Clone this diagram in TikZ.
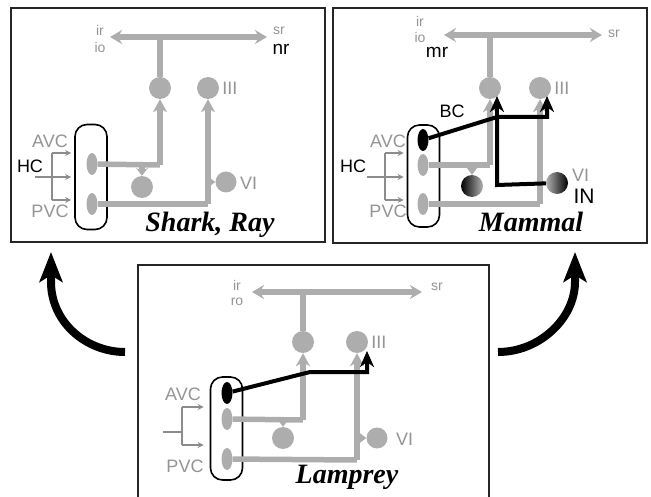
\documentclass[tikz,border=0pt]{standalone}
\usepackage{fontspec}
\setmainfont{Liberation Serif}
\setsansfont{Liberation Sans}
\usetikzlibrary{arrows.meta,shapes.geometric}
\begin{document}
\begin{tikzpicture}[x=1pt,y=-1pt,
  panel/.style={draw=black!85,line width=1.6pt},
  gline/.style={draw=black!32,line width=5.5pt},
  garrow/.style={gline,-{Stealth[length=13pt,width=14pt,inset=4pt]}},
  gsmall/.style={gline,-{Stealth[length=8pt,width=12pt,inset=3pt]}},
  gdarrow/.style={gline,{Stealth[length=12pt,width=14pt,inset=4pt]}-{Stealth[length=12pt,width=14pt,inset=4pt]}},
  gdot/.style={circle,fill=black!32,inner sep=0pt,minimum size=22pt},
  vcell/.style={ellipse,fill=black!32,inner sep=0pt,minimum width=11pt,minimum height=22pt},
  bcell/.style={ellipse,fill=black,inner sep=0pt,minimum width=11pt,minimum height=22pt},
  nucleus/.style={draw=black,line width=1.6pt,rounded corners=12pt,minimum width=32pt,inner sep=0pt},
  glbl/.style={font=\sffamily\fontsize{18}{18}\selectfont,text=black!42,inner sep=0pt},
  slbl/.style={font=\sffamily\fontsize{14}{14}\selectfont,text=black!42,inner sep=0pt},
  klbl/.style={font=\sffamily\fontsize{18}{18}\selectfont,text=black,inner sep=0pt},
  nrlbl/.style={font=\sffamily\fontsize{19}{19}\selectfont,text=black,inner sep=0pt},
  ttl/.style={font=\rmfamily\bfseries\itshape\fontsize{28}{28}\selectfont,inner sep=0pt,anchor=base},
  bline/.style={draw=black,line width=4pt},
  barrow/.style={bline,-{Stealth[length=16pt,width=14pt,inset=5pt]}},
  thinarrow/.style={draw=black!45,line width=1.2pt,-{Stealth[length=6pt,width=6pt]},shorten >=3pt},
  thinline/.style={draw=black!45,line width=1.2pt},
  bigarrow/.style={draw=black,line width=8pt,-{Stealth[length=30pt,width=23pt,inset=7pt]}}
]
\useasboundingbox (0,0) rectangle (651,497);

% ================= SHARK, RAY =================
\draw[panel] (11,8) rectangle (325,242);
\coordinate (s-L) at (110,37);
\coordinate (s-R) at (267,37);
\coordinate (s-top) at (160,37);
\node[slbl] (s-ir) at (100,30) {ir};
\node[slbl] (s-io) at (100,47) {io};
\node[slbl] (s-sr) at (279,31) {sr};
\node[nrlbl] (s-nr) at (281,49) {nr};
\node[gdot] (s-c1) at (160,88) {};
\node[gdot] (s-c3) at (208,88) {};
\node[glbl,anchor=west] (s-III) at ([xshift=3pt]s-c3.east) {III};
\node[nucleus,minimum height=105pt] (s-nuc) at (91,177) {};
\node[vcell] (s-e1) at (92,164) {};
\node[vcell] (s-e2) at (92,204) {};
\node[gdot] (s-c2) at (142,187) {};
\node[gdot,minimum size=21pt] (s-c6) at (226,182) {};
\node[glbl,anchor=west] (s-VI) at (240,183) {VI};
\coordinate (s-j1) at (160,165);
\coordinate (s-j2) at (208,204);
\coordinate (s-b1) at (142,165);
\coordinate (s-b2) at (208,182);
\draw[gdarrow] (s-L) -- (s-R);
\draw[gline] (s-e1) -- (s-j1);
\draw[garrow] (s-j1) -- (s-c1.south);
\draw[gline] (s-c1) -- (s-top);
\draw[gline] (s-e2) -- (s-j2);
\draw[garrow] (s-j2) -- (s-c3.south);
\draw[gsmall] (s-b1) -- (s-c2.north);
\draw[gsmall] (s-b2) -- (s-c6.west);
\coordinate (s-h0) at (35,177);
\coordinate (s-v1) at (52,153);
\coordinate (s-v2) at (52,200);
\draw[thinline] (s-v1) -- (s-v2);
\draw[thinarrow] (s-v1) -- (s-v1 -| s-nuc.west);
\draw[thinarrow] (s-h0) -- (s-h0 -| s-nuc.west);
\draw[thinarrow] (s-v2) -- (s-v2 -| s-nuc.west);
\node[glbl] (s-AVC) at (50,141) {AVC};
\node[klbl] (s-HC) at (30,166) {HC};
\node[glbl] (s-PVC) at (50,211) {PVC};
\node[ttl] (s-title) at (210,232) {Shark, Ray};

% ================= MAMMAL =================
\draw[panel] (333,8) rectangle (647,243);
\coordinate (m-L) at (444,35);
\coordinate (m-R) at (602,35);
\coordinate (m-top) at (490,35);
\node[slbl] (m-ir) at (420,21) {ir};
\node[slbl] (m-io) at (420,37) {io};
\node[nrlbl] (m-mr) at (437,52) {mr};
\node[slbl] (m-sr) at (614,34) {sr};
\node[gdot] (m-c1) at (490,88) {};
\node[gdot] (m-c3) at (540,88) {};
\node[glbl,anchor=west] (m-III) at ([xshift=3pt]m-c3.east) {III};
\node[nucleus,minimum height=102pt] (m-nuc) at (423.5,176) {};
\node[vcell] (m-e1) at (423,165) {};
\node[vcell] (m-e2) at (423,204) {};
\node[bcell] (m-e0) at (423,140) {};
\node[circle,inner sep=0pt,minimum size=22pt,left color=black,right color=black!30] (m-c2) at (472,186) {};
\node[circle,inner sep=0pt,minimum size=22pt,left color=black!30,right color=black] (m-c6) at (557,183) {};
\node[glbl,anchor=west] (m-VI) at (572,175) {VI};
\node[klbl,font=\sffamily\fontsize{21}{21}\selectfont] (m-IN) at (584,196) {IN};
\node[klbl] (m-BC) at (452,111) {BC};
\coordinate (m-j1) at (490,165);
\coordinate (m-j2) at (540,204);
\coordinate (m-b1) at (472,165);
\coordinate (m-b2) at (540,183);
\draw[gdarrow] (m-L) -- (m-R);
\draw[gline] (m-e1) -- (m-j1);
\draw[garrow] (m-j1) -- (m-c1.south);
\draw[gline] (m-c1) -- (m-top);
\draw[gline] (m-e2) -- (m-j2);
\draw[garrow] (m-j2) -- (m-c3.south);
\draw[gsmall] (m-b1) -- (m-c2.north);
\draw[gsmall] (m-b2) -- (m-c6.west);
\coordinate (m-k1) at (497,117);
\coordinate (m-k2) at (547,117);
\coordinate (m-k3) at (497,185);
\coordinate (m-t1) at (497,96);
\coordinate (m-t2) at (547,96);
\draw[barrow] (m-e0) -- (m-k1) -- (m-k2) -- (m-t2);
\draw[barrow] (m-k1) -- (m-t1);
\draw[bline] (m-k1) -- (m-k3) -- (m-c6);
\coordinate (m-h0) at (367,177);
\coordinate (m-v1) at (385,153);
\coordinate (m-v2) at (385,200);
\draw[thinline] (m-v1) -- (m-v2);
\draw[thinarrow] (m-v1) -- (m-v1 -| m-nuc.west);
\draw[thinarrow] (m-h0) -- (m-h0 -| m-nuc.west);
\draw[thinarrow] (m-v2) -- (m-v2 -| m-nuc.west);
\node[glbl] (m-AVC) at (388,141) {AVC};
\node[klbl] (m-HC) at (353,166) {HC};
\node[glbl] (m-PVC) at (388,211) {PVC};
\node[ttl] (m-title) at (531,232) {Mammal};

% ================= LAMPREY =================
\draw[panel] (138,497) -- (138,265) -- (489,265) -- (489,497);
\coordinate (l-L) at (252,292);
\coordinate (l-R) at (422,292);
\coordinate (l-top) at (303,292);
\node[slbl] (l-ir) at (237,285) {ir};
\node[slbl] (l-ro) at (237,302) {ro};
\node[slbl] (l-sr) at (437,287) {sr};
\node[gdot] (l-c1) at (303,342) {};
\node[gdot] (l-c3) at (357,342) {};
\node[glbl,anchor=west] (l-III) at ([xshift=3pt]l-c3.east) {III};
\node[nucleus,minimum height=103pt] (l-nuc) at (226.5,428.5) {};
\node[vcell] (l-e1) at (227,419) {};
\node[vcell] (l-e2) at (227,459) {};
\node[bcell] (l-e0) at (227,393) {};
\node[gdot] (l-c2) at (283,438) {};
\node[gdot,minimum size=21pt] (l-c6) at (377,438) {};
\node[glbl,anchor=west] (l-VI) at (396,439) {VI};
\coordinate (l-j1) at (303,420);
\coordinate (l-j2) at (357,460);
\coordinate (l-b1) at (283,420);
\coordinate (l-b2) at (357,438);
\draw[gdarrow] (l-L) -- (l-R);
\draw[gline] (l-e1) -- (l-j1);
\draw[garrow] (l-j1) -- (l-c1.south);
\draw[gline] (l-c1) -- (l-top);
\draw[gline] (l-e2) -- (l-j2);
\draw[garrow] (l-j2) -- (l-c3.south);
\draw[gsmall] (l-b1) -- (l-c2.north);
\draw[gsmall] (l-b2) -- (l-c6.west);
\coordinate (l-k1) at (310,372);
\coordinate (l-k2) at (367,372);
\coordinate (l-t) at (367,351);
\draw[barrow] (l-e0) -- (l-k1) -- (l-k2) -- (l-t);
\coordinate (l-h0) at (163,432);
\coordinate (l-v1) at (182,407);
\coordinate (l-v2) at (182,445);
\draw[thinline] (l-v1) -- (l-v2);
\draw[thinline] (l-h0) -- (l-h0 -| l-v1);
\draw[thinarrow,shorten >=6pt] (l-v1) -- (l-v1 -| l-nuc.west);
\draw[thinarrow,shorten >=6pt] (l-v2) -- (l-v2 -| l-nuc.west);
\node[glbl] (l-AVC) at (183,394) {AVC};
\node[glbl] (l-PVC) at (185,466) {PVC};
\node[ttl] (l-title) at (347,483) {Lamprey};

% ================= evolution arrows =================
\coordinate (a1s) at (125,352);
\coordinate (a1m) at (51,282);
\coordinate (a1e) at (51,252);
\draw[bigarrow] (a1s) .. controls (86,352) and (51,322) .. (a1m) -- (a1e);
\coordinate (a2s) at (498,352);
\coordinate (a2m) at (575,282);
\coordinate (a2e) at (575,252);
\draw[bigarrow] (a2s) .. controls (540,352) and (575,318) .. (a2m) -- (a2e);
\end{tikzpicture}
\end{document}
